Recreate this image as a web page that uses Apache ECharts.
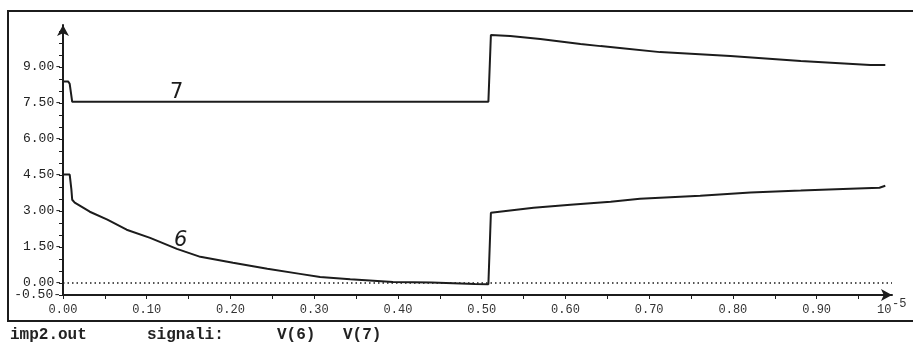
<!DOCTYPE html>
<html>
<head>
<meta charset="utf-8">
<script src="https://cdn.jsdelivr.net/npm/echarts@6/dist/echarts.min.js"></script>
<style>
html,body{margin:0;padding:0;background:#fff;}
#c{width:913px;height:344px;}
</style>
</head>
<body>
<div id="c"></div>
<script>
// time in units of 10^-5 s, voltage in V
const v7 = [[0,8.4],[0.006,8.4],[0.008,8.3],[0.011,7.55],[0.508,7.55],[0.511,10.33],[0.534,10.29],[0.570,10.17],[0.618,9.96],[0.642,9.87],[0.665,9.79],[0.713,9.62],[0.797,9.46],[0.881,9.25],[0.964,9.08],[0.982,9.08]];
const v6 = [[0,4.52],[0.008,4.52],[0.010,3.9],[0.011,3.47],[0.014,3.35],[0.032,2.97],[0.053,2.64],[0.076,2.22],[0.104,1.88],[0.136,1.42],[0.164,1.09],[0.203,0.84],[0.244,0.59],[0.283,0.38],[0.307,0.25],[0.343,0.16],[0.394,0.04],[0.440,0.02],[0.492,-0.04],[0.508,-0.05],[0.511,2.93],[0.562,3.14],[0.606,3.26],[0.654,3.39],[0.689,3.51],[0.761,3.64],[0.821,3.77],[0.881,3.85],[0.940,3.93],[0.975,3.97],[0.982,4.05]];
const zeroLine = [[0,0],[0.99,0]];
const xLabels = [0,0.1,0.2,0.3,0.4,0.5,0.6,0.7,0.8,0.9];
const xTicks = [0,0.05,0.1,0.15,0.2,0.25,0.3,0.35,0.4,0.45,0.5,0.55,0.6,0.65,0.7,0.75,0.8,0.85,0.9,0.95];
const yLabels = [0,1.5,3,4.5,6,7.5,9];
const yMinLabel = -0.5;
const yTicks = [-0.5,0,0.5,1,1.5,2,2.5,3,3.5,4,4.5,5,5.5,6,6.5,7,7.5,8,8.5,9,9.5,10,10.5];
const bottomText = [['imp2.out',10],['signali:',147],['V(6)',277],['V(7)',343]];

const ink = '#1c1c1c';
const mono = '"Liberation Mono","DejaVu Sans Mono",monospace';
const chart = echarts.init(document.getElementById('c'), null, {renderer:'canvas'});
const graphics = [
  {type:'rect', shape:{x:8,y:11,width:920,height:310}, style:{fill:'none',stroke:ink,lineWidth:2}, silent:true},
  {type:'text', x:877, y:304, style:{text:'10', fontFamily:mono, fontSize:12, fill:'#333'}},
  {type:'text', x:892, y:298, style:{text:'-5', fontFamily:mono, fontSize:12, fill:'#333'}},
  {type:'text', x:170, y:82, style:{text:'7', fontFamily:'DejaVu Sans', fontSize:21, fill:ink}},
  {type:'text', x:174, y:230, style:{text:'6', fontFamily:'DejaVu Sans', fontSize:21, fontStyle:'italic', fill:ink}}
];
bottomText.forEach(([t,x])=>graphics.push({type:'text', x:x, y:327, style:{text:t, fontFamily:mono, fontWeight:'bold', fontSize:16, fill:'#222'}}));

chart.setOption({
  animation:false,
  backgroundColor:'#fff',
  grid:{left:63, right:21, top:25, bottom:49},
  xAxis:{
    type:'value', min:0, max:0.99,
    axisLine:{onZero:false, lineStyle:{color:ink,width:2}, symbol:['none','arrow'], symbolSize:[9,11]},
    axisTick:{show:true, customValues:xTicks, length:4, lineStyle:{color:ink,width:1}},
    axisLabel:{customValues:xLabels, formatter:v=>v.toFixed(2), fontFamily:mono, fontSize:12, color:'#333', margin:9},
    splitLine:{show:false}
  },
  yAxis:{
    type:'value', min:-0.5, max:10.75,
    axisLine:{lineStyle:{color:ink,width:2}, symbol:['none','arrow'], symbolSize:[9,11]},
    axisTick:{show:true, customValues:yTicks, length:4, lineStyle:{color:ink,width:1}},
    axisLabel:{customValues:yLabels, formatter:v=>v.toFixed(2)+'-', fontFamily:mono, fontSize:13, color:'#222', margin:1},
    splitLine:{show:false}
  },
  series:[
    {type:'line', name:'V(7)', data:v7, showSymbol:false, lineStyle:{color:ink,width:2}},
    {type:'line', name:'V(6)', data:v6, showSymbol:false, lineStyle:{color:ink,width:2}},
    {type:'line', name:'zero', data:zeroLine, showSymbol:false, lineStyle:{color:ink,width:1.5,type:[1.5,3]}}
  ],
  graphic:graphics
});
// minimum tick label placed via the axis scale (ECharts hides it when it overlaps the 0.00 label)
const py = chart.convertToPixel({yAxisIndex:0}, yMinLabel);
graphics.push({type:'text', x:61, y:py, style:{text:yMinLabel.toFixed(2)+'-', fontFamily:mono, fontSize:13, fill:'#222', align:'right', verticalAlign:'middle'}});
chart.setOption({graphic:graphics});
</script>
</body>
</html>
